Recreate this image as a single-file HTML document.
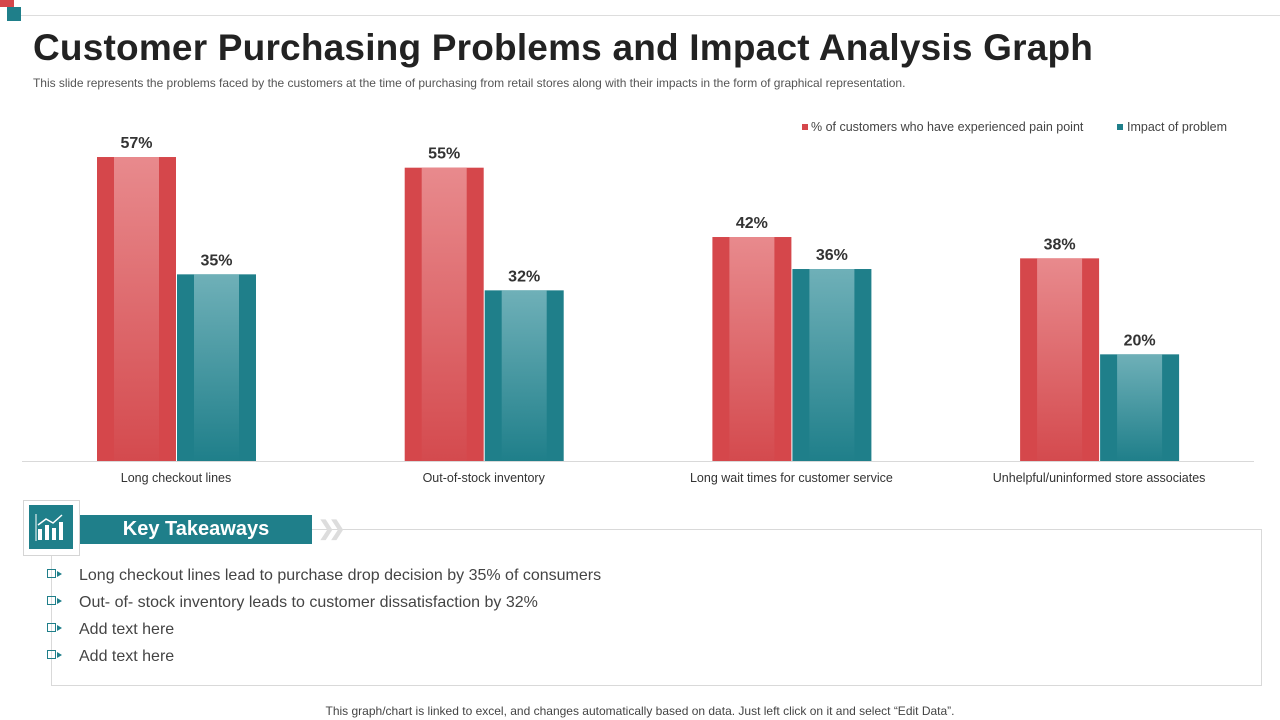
<!DOCTYPE html>
<html><head><meta charset="utf-8">
<style>
body{margin:0;width:1280px;height:720px;background:#fff;font-family:"Liberation Sans",sans-serif;overflow:hidden;position:relative}
.abs{position:absolute}
.bul{display:inline-block;vertical-align:middle;width:7px;height:7px;border:1px solid #1f7f8a;margin-right:1px;position:relative;top:-2px}
.tri{display:inline-block;vertical-align:middle;width:0;height:0;border-left:5px solid #1f7f8a;border-top:3.5px solid transparent;border-bottom:3.5px solid transparent;margin-right:17px;position:relative;top:-2px}
</style></head><body>
<div class="abs" style="left:0;top:0;width:14px;height:7px;background:#d5474b"></div>
<div class="abs" style="left:7px;top:7px;width:14px;height:14px;background:#1f7f8a"></div>
<div class="abs" style="left:21px;top:15px;width:1259px;height:1px;background:#ddd"></div>
<div class="abs" style="left:33px;top:27px;font-size:37px;font-weight:bold;color:#222;letter-spacing:0.2px;white-space:nowrap">Customer Purchasing Problems and Impact Analysis Graph</div>
<div class="abs" style="left:33px;top:76px;font-size:12px;color:#555;letter-spacing:-0.02px;white-space:nowrap">This slide represents the problems faced by the customers at the time of purchasing from retail stores along with their impacts in the form of graphical representation.</div>
<svg class="abs" style="left:0;top:0" width="1280" height="500">
<defs>
<linearGradient id="gr" x1="0" y1="0" x2="0" y2="1"><stop offset="0" stop-color="#e88a8d"/><stop offset="1" stop-color="#d44a4e"/></linearGradient>
<linearGradient id="gt" x1="0" y1="0" x2="0" y2="1"><stop offset="0" stop-color="#6fb0b8"/><stop offset="1" stop-color="#1f7f8a"/></linearGradient>
</defs>
<g id="bars"></g>
<line x1="22" y1="461.5" x2="1254" y2="461.5" stroke="#d9d9d9"/>
<rect x="802" y="124" width="6" height="6" fill="#d5474b"/>
<text x="811" y="131" font-size="12.5" fill="#444">% of customers who have experienced pain point</text>
<rect x="1117" y="124" width="6" height="6" fill="#1f7f8a"/>
<text x="1127" y="131" font-size="12.5" fill="#444">Impact of problem</text>
</svg>
<script>
const categories=["Long checkout lines","Out-of-stock inventory","Long wait times for customer service","Unhelpful/uninformed store associates"];
const painValues=[57,55,42,38];
const impactValues=[35,32,36,20];
const g=document.getElementById('bars');
const ns="http://www.w3.org/2000/svg";
const base=461, scale=5.333;
const yPos=v=>base-v*scale;
const xCenter=i=>176+i*307.7;
function mk(tag,attrs){const e=document.createElementNS(ns,tag);for(const k in attrs)e.setAttribute(k,attrs[k]);g.appendChild(e);return e;}
function bar(x,v,col,grad,name,i){
  const y=yPos(v),h=base-y;
  const r=mk('rect',{x:x,y:y,width:79,height:h,fill:col});
  
  
  const s=mk('rect',{x:x+17,y:y,width:45,height:h,fill:'url(#'+grad+')'});
  
  
  const t=mk('text',{x:x+39.5,y:y-9,'text-anchor':'middle','font-size':16,'font-weight':'bold',fill:'#333'});
  t.textContent=v+'%';
  
  
}
categories.forEach((c,i)=>{
  const cx=xCenter(i);
  bar(cx-79,painValues[i],'#d5474b','gr','bar-pain',i);
  bar(cx+1,impactValues[i],'#1f7f8a','gt','bar-impact',i);
  const t=mk('text',{x:cx,y:482,'text-anchor':'middle','font-size':12.5,fill:'#333'});
  t.textContent=c;
  
  
});
</script>
<div class="abs" style="left:51px;top:529px;width:1209px;height:155px;border:1px solid #d9d9d9"></div>
<div class="abs" style="left:23px;top:500px;width:55px;height:54px;border:1px solid #d5d5d5;background:#fff"></div>
<div class="abs" style="left:29px;top:505px;width:44px;height:44px;background:#1f7f8a">
<svg width="44" height="44"><g fill="#fff"><rect x="9" y="24" width="4" height="11"/><rect x="16" y="20" width="4" height="15"/><rect x="23" y="23" width="4" height="12"/><rect x="30" y="17" width="4" height="18"/></g><polyline points="9,20 17,14 24,18 33,10" stroke="#fff" stroke-width="1.5" fill="none"/><line x1="7" y1="9" x2="7" y2="36" stroke="#fff"/></svg></div>
<div class="abs" style="left:80px;top:515px;width:232px;height:29px;background:#1f7f8a;color:#fff;font-weight:bold;font-size:20px;line-height:29px;text-align:center">Key Takeaways</div>
<div class="abs" style="left:318px;top:516px;font-size:20px;color:#ddd;font-weight:bold;letter-spacing:-6px">❯❯</div>
<div class="abs" style="left:47px;top:566px;font-size:16px;color:#444;line-height:20px">
<div style="height:27px"><span class="bul"></span><span class="tri"></span>Long checkout lines lead to purchase drop decision by 35% of consumers</div>
<div style="height:27px"><span class="bul"></span><span class="tri"></span>Out- of- stock inventory leads to customer dissatisfaction by 32%</div>
<div style="height:27px"><span class="bul"></span><span class="tri"></span>Add text here</div>
<div style="height:27px"><span class="bul"></span><span class="tri"></span>Add text here</div>
</div>
<div class="abs" style="left:0;width:1280px;top:704px;text-align:center;font-size:12px;color:#444">This graph/chart is linked to excel, and changes automatically based on data. Just left click on it and select “Edit Data”.</div>
</body></html>
